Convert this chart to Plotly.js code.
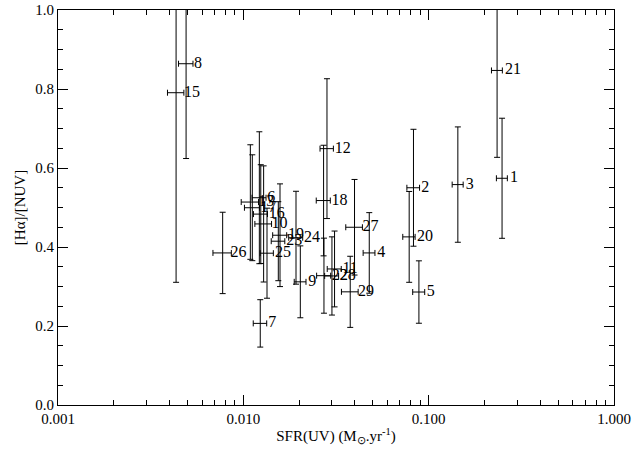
<!DOCTYPE html>
<html>
<head>
<meta charset="utf-8">
<script src="https://cdn.plot.ly/plotly-3.0.1.min.js"></script>
<style>html,body{margin:0;padding:0;background:#fff;}#chart{width:634px;height:449px;}</style>
</head>
<body>
<div id="chart"></div>
<script>
// Galaxy identifiers
const labels = ['1','2','3','4','5','6','7','8','9','10','11','12','13','15','16','17','18','19','20','21','22','23','24','25','26','27','28','29'];
// SFR(UV) in Msun/yr
const sfr = [0.2489,0.0828,0.1437,0.0478,0.0886,0.0122,0.01234,0.00491,0.0203,0.01287,0.03106,0.02827,0.01091,0.004337,0.01242,0.01118,0.0271,0.01577,0.0785,0.234,0.02723,0.01544,0.01924,0.01342,0.007735,0.03981,0.03007,0.03774];
// SFR(UV) errors
const sfrErr = [0.0169,0.0065,0.0098,0.0035,0.0066,0.00106,0.00103,0.00044,0.00148,0.00133,0.0027,0.00234,0.00117,0.00044,0.00108,0.00104,0.00236,0.00137,0.0060,0.0158,0.00237,0.0013,0.00167,0.0011,0.00088,0.0041,0.0026,0.0039];
// [Halpha]/[NUV] ratio
const ratio = [0.574,0.550,0.558,0.385,0.286,0.5247,0.2066,0.864,0.3118,0.4584,0.3444,0.649,0.5138,0.7906,0.4833,0.4994,0.5176,0.4298,0.4256,0.847,0.3274,0.4147,0.4235,0.3843,0.385,0.450,0.3267,0.2865];
// ratio errors
const ratioErr = [0.152,0.148,0.146,0.102,0.079,0.167,0.060,0.240,0.091,0.147,0.096,0.177,0.145,0.480,0.125,0.134,0.140,0.130,0.115,0.220,0.095,0.100,0.1176,0.114,0.103,0.121,0.099,0.090];

const xMajor = [0.001,0.01,0.1,1];
const xMajorText = ['0.001','0.010','0.100','1.000'];
const xMinor = [];
[0.001,0.01,0.1].forEach(d=>{for(let k=2;k<=9;k++) xMinor.push(d*k);});

const fam = 'Liberation Serif, Times New Roman, serif';

const trace = {
  type:'scatter',
  mode:'markers+text',
  x:sfr, y:ratio, text:labels,
  textposition:'middle right',
  textfont:{family:fam, size:16, color:'#000000'},
  marker:{size:11, color:'rgba(255,255,255,0)', line:{width:0}},
  error_x:{type:'data', array:sfrErr, visible:true, color:'#000', thickness:1, width:3},
  error_y:{type:'data', array:ratioErr, visible:true, color:'#000', thickness:1, width:3},
  cliponaxis:true,
  hoverinfo:'skip'
};

const layout = {
  width:634, height:449,
  margin:{l:58, r:20, t:10, b:44},
  paper_bgcolor:'#fff', plot_bgcolor:'#fff',
  showlegend:false,
  font:{family:fam, size:15, color:'#000'},
  xaxis:{
    type:'log', range:[-3,0],
    tickvals:xMajor, ticktext:xMajorText,
    ticks:'inside', ticklen:10, tickwidth:1, tickcolor:'#000',
    minor:{tickvals:xMinor, ticks:'inside', ticklen:5, tickwidth:1, tickcolor:'#000'},
    showline:true, linecolor:'#000', linewidth:1, mirror:'allticks',
    showgrid:false, zeroline:false,
    tickfont:{family:fam, size:15, color:'#000'},
    title:{text:'SFR(UV) (M<sub>⊙</sub>.yr<sup>-1</sup>)', font:{family:fam, size:15, color:'#000'}, standoff:4}
  },
  yaxis:{
    range:[0,1], tickvals:[0,0.2,0.4,0.6,0.8,1.0], ticktext:['0.0','0.2','0.4','0.6','0.8','1.0'],
    ticks:'inside', ticklen:10, tickwidth:1, tickcolor:'#000',
    minor:{dtick:0.05, ticks:'inside', ticklen:5, tickwidth:1, tickcolor:'#000'},
    showline:true, linecolor:'#000', linewidth:1, mirror:'allticks',
    showgrid:false, zeroline:false,
    tickfont:{family:fam, size:15, color:'#000'},
    title:{text:'[Hα]/[NUV]', font:{family:fam, size:15, color:'#000'}, standoff:6}
  }
};

Plotly.newPlot('chart',[trace],layout,{displayModeBar:false, staticPlot:true});
</script>
</body>
</html>
